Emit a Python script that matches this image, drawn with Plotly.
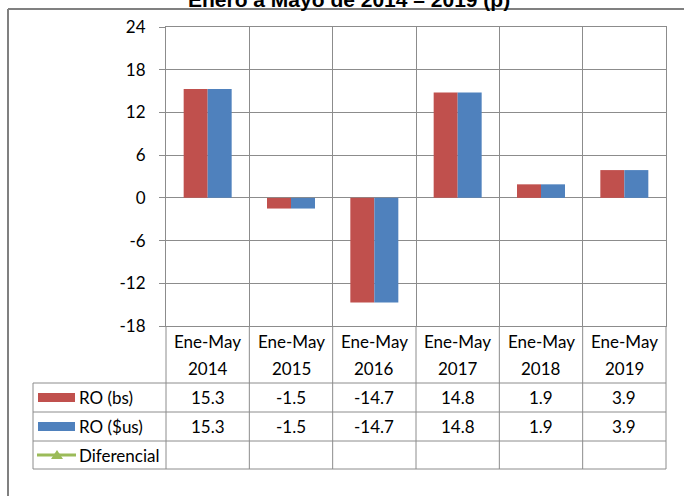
import plotly.graph_objects as go

# ---------------- data ----------------
periodo = "Ene-May"
anios = ["2014", "2015", "2016", "2017", "2018", "2019"]
categorias = [f"{periodo} {a}" for a in anios]
ro_bs = [15.3, -1.5, -14.7, 14.8, 1.9, 3.9]
ro_us = [15.3, -1.5, -14.7, 14.8, 1.9, 3.9]
diferencial = [None, None, None, None, None, None]
serie_nombres = ["RO (bs)", "RO ($us)", "Diferencial"]
titulo = "Enero a Mayo de 2014 – 2019 (p)"
y_ticks = [-18, -12, -6, 0, 6, 12, 18, 24]

# ---------------- layout constants ----------------
W, H = 684, 496
L, R, T, B = 166, 18, 27, 170
PW, PH = W - L - R, H - T - B
RED, BLUE, GREEN = "#C0504D", "#4F81BD", "#9BBB59"
GRID = "#8c8c8c"
FONT = "Lato"


def px_x(px):
    return (px - L) / PW


def px_y(py):
    return (H - B - py) / PH


fig = go.Figure()
fig.add_trace(go.Bar(x=categorias, y=ro_bs, name=serie_nombres[0], marker_color=RED,
                     marker_line_width=0))
fig.add_trace(go.Bar(x=categorias, y=ro_us, name=serie_nombres[1], marker_color=BLUE,
                     marker_line_width=0))
fig.add_trace(go.Scatter(x=categorias, y=diferencial, name=serie_nombres[2], mode="lines+markers",
                         line=dict(color=GREEN, width=2.5),
                         marker=dict(symbol="triangle-up", size=8, color=GREEN)))

shapes = []
ann = []

n = len(categorias)
tbl_left = 33
hdr_top = 326
row_lines = [383, 412, 441, 469]
line = dict(color=GRID, width=1)

for i in range(n + 1):
    shapes.append(dict(type="line", xref="paper", yref="paper", x0=i / n, x1=i / n,
                       y0=px_y(hdr_top), y1=px_y(row_lines[-1]), line=line))
shapes.append(dict(type="line", xref="paper", yref="paper", x0=px_x(tbl_left), x1=px_x(tbl_left),
                   y0=px_y(row_lines[0]), y1=px_y(row_lines[-1]), line=line))
for ry in row_lines:
    shapes.append(dict(type="line", xref="paper", yref="paper", x0=px_x(tbl_left), x1=1,
                       y0=px_y(ry), y1=px_y(ry), line=line))

txt_font = dict(family=FONT, size=17, color="#000")
for i, a in enumerate(anios):
    cx = (i + 0.5) / n
    ann.append(dict(xref="paper", yref="paper", x=cx, y=px_y(341), text=periodo, showarrow=False,
                    xanchor="center", yanchor="middle", font=txt_font))
    ann.append(dict(xref="paper", yref="paper", x=cx, y=px_y(369), text=a, showarrow=False,
                    xanchor="center", yanchor="middle", font=txt_font))

rows = [ro_bs, ro_us, diferencial]
colors = [RED, BLUE, GREEN]
for r, (vals, name, col) in enumerate(zip(rows, serie_nombres, colors)):
    cy = (row_lines[r] + row_lines[r + 1]) / 2
    for i, v in enumerate(vals):
        if v is None:
            continue
        ann.append(dict(xref="paper", yref="paper", x=(i + 0.5) / n, y=px_y(cy), text=f"{v:.1f}",
                        showarrow=False, xanchor="center", yanchor="middle", font=txt_font))
    if r < 2:
        shapes.append(dict(type="rect", xref="paper", yref="paper", x0=px_x(38), x1=px_x(75),
                           y0=px_y(cy - 4.5), y1=px_y(cy + 4.5), fillcolor=col, line_width=0))
    else:
        shapes.append(dict(type="line", xref="paper", yref="paper", x0=px_x(37), x1=px_x(76),
                           y0=px_y(cy), y1=px_y(cy), line=dict(color=col, width=3)))
        shapes.append(dict(type="path", xref="paper", yref="paper",
                           path=f"M {px_x(51)} {px_y(cy + 4)} L {px_x(63)} {px_y(cy + 4)} L {px_x(57)} {px_y(cy - 5)} Z",
                           fillcolor=col, line_width=0))
    ann.append(dict(xref="paper", yref="paper", x=px_x(77), y=px_y(cy), text=name, showarrow=False,
                    xanchor="left", yanchor="middle", font=txt_font))

border = dict(color="#808080", width=2)
shapes.append(dict(type="line", xref="paper", yref="paper", x0=px_x(8), x1=px_x(700),
                   y0=px_y(9), y1=px_y(9), line=border))
shapes.append(dict(type="line", xref="paper", yref="paper", x0=px_x(8), x1=px_x(8),
                   y0=px_y(9), y1=px_y(510), line=border))

ann.append(dict(xref="paper", yref="paper", x=px_x(348.5), y=px_y(-0.6), text=f"<b>{titulo}</b>",
                showarrow=False, xanchor="center", yanchor="middle",
                font=dict(family="Liberation Sans", size=21, color="#000")))

fig.update_layout(
    width=W, height=H,
    margin=dict(l=L, r=R, t=T, b=B, pad=0),
    paper_bgcolor="white", plot_bgcolor="white",
    barmode="group", bargap=0.424, bargroupgap=0,
    showlegend=False,
    shapes=shapes, annotations=ann,
    xaxis=dict(type="category", showticklabels=False, tickson="boundaries", showgrid=True,
               gridcolor=GRID, gridwidth=1, ticks="", showline=True, linecolor=GRID,
               mirror=True, zeroline=False),
    yaxis=dict(range=[-18, 24], tickvals=y_ticks, ticktext=[str(v) for v in y_ticks],
               showgrid=True, gridcolor=GRID, gridwidth=1,
               zeroline=False, showline=True, linecolor=GRID, mirror=True,
               ticks="outside", ticklen=6, tickcolor=GRID, ticklabelstandoff=10,
               tickfont=txt_font),
)

fig.write_html("out.html", config={"displayModeBar": False},
               post_script="document.body.style.margin='0';")
